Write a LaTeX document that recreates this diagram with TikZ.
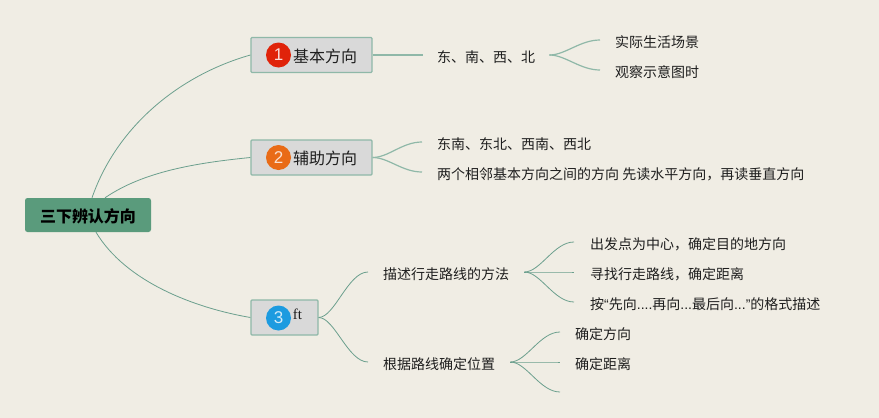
\documentclass[tikz,border=0pt]{standalone}
\usetikzlibrary{calc}
\usepackage{fontspec}
\setmainfont{Noto Sans CJK SC}
\newfontfamily\latinsans{Liberation Sans}
\newfontfamily\latinserif{Liberation Serif}
\newcommand{\fwcomma}{\char"FF0C\relax}
\definecolor{bgc}{HTML}{F0EDE4}
\definecolor{rootc}{HTML}{5A9B7C}
\definecolor{boxc}{HTML}{D9D9D9}
\definecolor{edgec}{HTML}{8FB8A8}
\definecolor{linec}{HTML}{6B9F8D}
\definecolor{inkc}{HTML}{1E1E1E}
\definecolor{badgea}{HTML}{E0230A}
\definecolor{badgeb}{HTML}{E96B17}
\definecolor{badgec}{HTML}{1C9BE0}
\tikzset{
  rootnode/.style={fill=rootc,rounded corners=2.5pt,minimum width=126pt,minimum height=34pt,inner sep=0pt,font=\fontsize{16}{17}\selectfont\bfseries,text=black,text height=16pt,text depth=0.5pt},
  branchnode/.style={draw=edgec,line width=1.2pt,fill=boxc,rounded corners=1pt,minimum height=35pt,inner sep=0pt,font=\fontsize{16}{17}\selectfont,text=inkc,text height=15pt,text depth=1pt},
  leaf/.style={anchor=west,inner xsep=14pt,inner ysep=0pt,font=\fontsize{14}{15}\selectfont,text=inkc,text height=15pt,text depth=0pt},
  badge/.style={circle,minimum size=25pt,inner sep=0pt,font=\latinsans\fontsize{17}{18}\selectfont},
  link/.style={draw=linec,line width=0.8pt},
  stub/.style={draw=edgec,line width=1.2pt}
}
\begin{document}
\begin{tikzpicture}[x=1pt,y=-1pt]
\useasboundingbox (0,0) rectangle (879,418);
\fill[bgc] (0,0) rectangle (879,418);
% main nodes
\node[rootnode] (root) at (88,215) {三下辨认方向};
\node[branchnode,minimum width=121pt] (b1) at (311.5,55) {\hspace{27pt}基本方向};
\node[branchnode,minimum width=121pt] (b2) at (311.5,157.5) {\hspace{27pt}辅助方向};
\node[branchnode,minimum width=67pt] (b3) at (284.5,317.5) {\hspace{26pt}\raisebox{5.5pt}{\latinserif\fontsize{15}{16}\selectfont ft}};
\node[badge,fill=badgea,text=white!85!badgea] (n1) at (278.5,55) {1};
\node[badge,fill=badgeb,text=white!80!badgeb] (n2) at (278.5,157.5) {2};
\node[badge,fill=badgec,text=white!80!badgec] (n3) at (278.5,318) {3};
% text nodes
\node[leaf] (a1) at (423,55) {东、南、西、北};
\node[leaf,inner xsep=15pt] (a11) at (600,40) {实际生活场景};
\node[leaf,inner xsep=15pt] (a12) at (600,70) {观察示意图时};
\node[leaf,inner xsep=15pt] (a21) at (422,142) {东南、东北、西南、西北};
\node[leaf,inner xsep=15pt] (a22) at (422,172) {两个相邻基本方向之间的方向 先读水平方向\fwcomma 再读垂直方向};
\node[leaf,inner xsep=15pt] (c1) at (368,272) {描述行走路线的方法};
\node[leaf,inner xsep=15pt] (c2) at (368,362) {根据路线确定位置};
\node[leaf,inner xsep=16pt] (d1) at (574,242) {出发点为中心\fwcomma 确定目的地方向};
\node[leaf,inner xsep=16pt] (d2) at (574,272) {寻找行走路线\fwcomma 确定距离};
\node[leaf,inner xsep=16pt] (d3) at (574,302) {按{\latinsans “}先向{\latinsans ....}再向{\latinsans ...}最后向{\latinsans ...”}的格式描述};
\node[leaf,inner xsep=15pt] (e1) at (560,332) {确定方向};
\node[leaf,inner xsep=15pt] (e2) at (560,362) {确定距离};
\coordinate (e3) at (560,392);
% root links
\draw[link] ([xshift=4pt]root.north) .. controls +(25,-72) and (180,75) .. (b1.west);
\draw[link] ([xshift=17pt]root.north) .. controls +(38,-26) and (195,163) .. (b2.west);
\draw[link] ([xshift=8pt]root.south) .. controls +(30,50) and (195,308) .. (b3.west);
% branch links
\draw[stub] (b1.east) -- (a1.west);
\foreach \tgt in {a21,a22} \draw[stub] (b2.east) .. controls +(16,0) and ($(\tgt.west)+(-20,0)$) .. (\tgt.west);
\foreach \tgt in {a11,a12} \draw[stub] (a1.east) .. controls +(16,0) and ($(\tgt.west)+(-20,0)$) .. (\tgt.west);
\foreach \tgt in {c1,c2} \draw[link] (b3.east) .. controls +(16,0) and ($(\tgt.west)+(-20,0)$) .. (\tgt.west);
\foreach \tgt in {d1,d2,d3} \draw[link] (c1.east) .. controls +(16,0) and ($(\tgt.west)+(-20,0)$) .. (\tgt.west);
\foreach \tgt in {e1,e2} \draw[link] (c2.east) .. controls +(16,0) and ($(\tgt.west)+(-20,0)$) .. (\tgt.west);
\draw[link] (c2.east) .. controls +(16,0) and ($(e3)+(-20,0)$) .. (e3);
\end{tikzpicture}
\end{document}
